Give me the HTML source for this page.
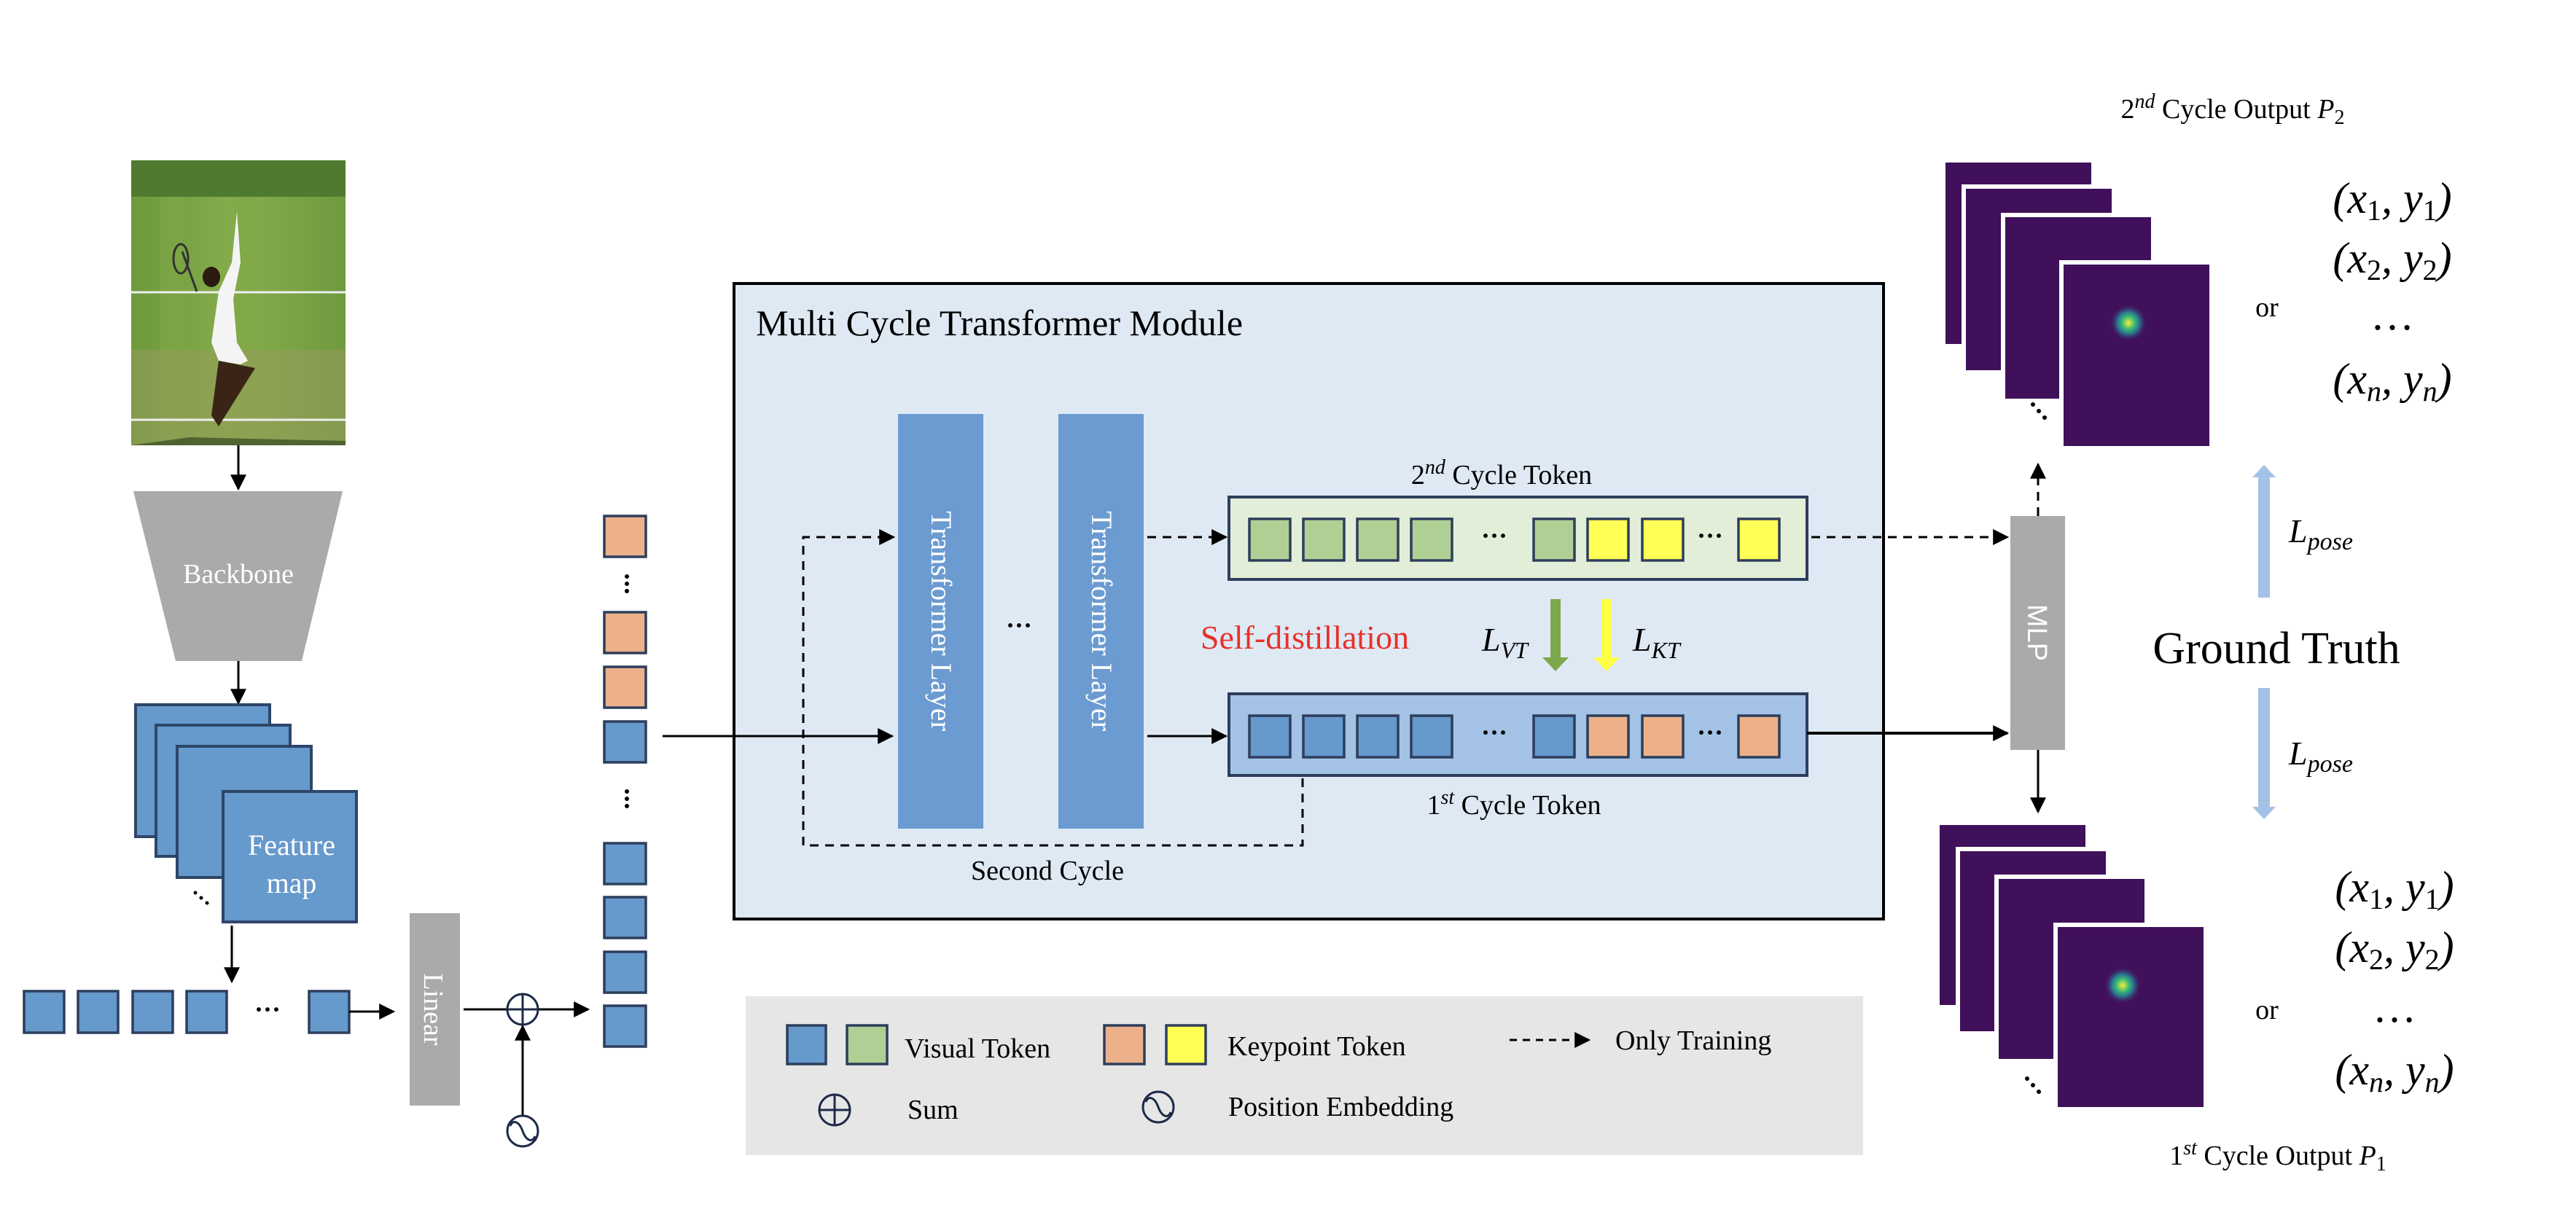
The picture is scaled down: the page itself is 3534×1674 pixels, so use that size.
<!DOCTYPE html>
<html><head><meta charset="utf-8"><style>
html,body{margin:0;padding:0;background:#fff}
svg{display:block}
text{font-family:"Liberation Serif",serif}
</style></head><body>
<svg width="3534" height="1674" viewBox="0 0 3534 1674" xmlns="http://www.w3.org/2000/svg">
<defs>
<marker id="a2" viewBox="0 0 10 10" refX="9" refY="5" markerWidth="22" markerHeight="22" markerUnits="userSpaceOnUse" orient="auto"><path d="M0,0L10,5L0,10z" fill="#000"/></marker>
<radialGradient id="spot"><stop offset="0" stop-color="#f5f03a"/><stop offset="0.35" stop-color="#35b779"/><stop offset="0.6" stop-color="#2c6f8e"/><stop offset="1" stop-color="#41105a" stop-opacity="0"/></radialGradient>
<linearGradient id="grass" x1="0" x2="1"><stop offset="0" stop-color="#6e9a3c"/><stop offset="0.5" stop-color="#86ad4c"/><stop offset="1" stop-color="#6f9a3e"/></linearGradient>
</defs>

<!-- photo -->
<rect x="180" y="220" width="294" height="391" fill="url(#grass)"/>
<rect x="180" y="220" width="294" height="50" fill="#4f7a2f"/>
<rect x="220" y="270" width="30" height="341" fill="#7ea646" opacity="0.6"/>
<rect x="320" y="270" width="30" height="341" fill="#7ea646" opacity="0.6"/>
<rect x="180" y="480" width="294" height="131" fill="#9a9a5e" opacity="0.5"/>
<line x1="180" y1="401" x2="474" y2="401" stroke="#eee" stroke-width="3"/>
<line x1="180" y1="576" x2="474" y2="576" stroke="#eee" stroke-width="3"/>
<path d="M325,290 L318,360 L300,400 L290,470 L300,495 L330,500 L340,495 L325,470 L320,410 L330,360 Z" fill="#f4f4f4"/>
<path d="M300,495 L290,570 L300,585 L350,505 Z" fill="#3a2416"/>
<ellipse cx="290" cy="380" rx="12" ry="14" fill="#2a1a10"/>
<line x1="270" y1="400" x2="250" y2="345" stroke="#333" stroke-width="3"/>
<ellipse cx="248" cy="355" rx="10" ry="20" fill="none" stroke="#333" stroke-width="3"/>
<path d="M180,611 L260,600 L474,605 L474,611Z" fill="#2a3a1a" opacity="0.6"/>

<line x1="327" y1="611" x2="327" y2="671" stroke="#000" stroke-width="3" marker-end="url(#a2)"/>
<polygon points="183,674 470,674 414,907 241,907" fill="#aaaaaa"/>
<text x="327" y="800" font-size="38" fill="#fff" text-anchor="middle">Backbone</text>
<line x1="327" y1="907" x2="327" y2="965" stroke="#000" stroke-width="3" marker-end="url(#a2)"/>

<!-- feature maps -->
<g fill="#6699cc" stroke="#2d4668" stroke-width="4">
<rect x="186" y="967" width="184" height="181"/>
<rect x="214" y="995" width="184" height="180"/>
<rect x="243" y="1024" width="184" height="180"/>
<rect x="306" y="1086" width="183" height="179"/>
</g>
<text x="400" y="1173" font-size="40" fill="#fff" text-anchor="middle">Feature</text>
<text x="400" y="1225" font-size="40" fill="#fff" text-anchor="middle">map</text>
<g fill="#000"><circle cx="268" cy="1225" r="2.5"/><circle cx="276" cy="1232" r="2.5"/><circle cx="284" cy="1239" r="2.5"/></g>
<line x1="318" y1="1270" x2="318" y2="1347" stroke="#000" stroke-width="3" marker-end="url(#a2)"/>

<!-- token row -->
<g fill="#6699cc" stroke="#2d3e5c" stroke-width="3.5">
<rect x="33" y="1360" width="55" height="57"/>
<rect x="107" y="1360" width="55" height="57"/>
<rect x="182" y="1360" width="55" height="57"/>
<rect x="256" y="1360" width="55" height="57"/>
<rect x="424" y="1360" width="55" height="57"/>
</g>
<text x="367" y="1397" font-size="36" text-anchor="middle" font-weight="bold">···</text>
<line x1="479" y1="1388" x2="540" y2="1388" stroke="#000" stroke-width="3" marker-end="url(#a2)"/>
<rect x="562" y="1253" width="69" height="264" fill="#aaaaaa"/>
<text transform="translate(582,1385) rotate(90)" font-size="38" fill="#fff" text-anchor="middle">Linear</text>
<line x1="636" y1="1385" x2="807" y2="1385" stroke="#000" stroke-width="3" marker-end="url(#a2)"/>
<circle cx="717" cy="1385" r="21" fill="#fff" stroke="#1e2a4a" stroke-width="3"/>
<line x1="696" y1="1385" x2="738" y2="1385" stroke="#1e2a4a" stroke-width="3"/>
<line x1="717" y1="1364" x2="717" y2="1406" stroke="#1e2a4a" stroke-width="3"/>
<line x1="717" y1="1530" x2="717" y2="1408" stroke="#000" stroke-width="3" marker-end="url(#a2)"/>
<circle cx="717" cy="1552" r="21" fill="#fff" stroke="#1e2a4a" stroke-width="3"/>
<path d="M700,1545 C703,1536 712,1538 717,1552 C722,1566 731,1568 734,1559" fill="none" stroke="#1e2a4a" stroke-width="3"/>

<!-- token column -->
<g stroke="#2d3e5c" stroke-width="3.5">
<rect x="829" y="708" width="57" height="56" fill="#ecb18a"/>
<rect x="829" y="840" width="57" height="56" fill="#ecb18a"/>
<rect x="829" y="915" width="57" height="56" fill="#ecb18a"/>
<rect x="829" y="990" width="57" height="56" fill="#6699cc"/>
<rect x="829" y="1157" width="57" height="56" fill="#6699cc"/>
<rect x="829" y="1231" width="57" height="56" fill="#6699cc"/>
<rect x="829" y="1306" width="57" height="56" fill="#6699cc"/>
<rect x="829" y="1380" width="57" height="56" fill="#6699cc"/>
</g>
<g fill="#000"><circle cx="860" cy="791" r="3"/><circle cx="860" cy="801" r="3"/><circle cx="860" cy="811" r="3"/>
<circle cx="860" cy="1086" r="3"/><circle cx="860" cy="1096" r="3"/><circle cx="860" cy="1106" r="3"/></g>

<!-- module -->
<rect x="1007" y="389" width="1577" height="872" fill="#dfe9f4" stroke="#000" stroke-width="4"/>
<text x="1037" y="460" font-size="50">Multi Cycle Transformer Module</text>
<line x1="909" y1="1010" x2="1224" y2="1010" stroke="#000" stroke-width="3" marker-end="url(#a2)"/>
<rect x="1232" y="568" width="117" height="569" fill="#6b9bd1"/>
<rect x="1452" y="568" width="117" height="569" fill="#6b9bd1"/>
<text transform="translate(1278,852) rotate(90)" font-size="40" fill="#fff" text-anchor="middle">Transformer Layer</text>
<text transform="translate(1498,852) rotate(90)" font-size="40" fill="#fff" text-anchor="middle">Transformer Layer</text>
<text x="1398" y="870" font-size="36" text-anchor="middle" font-weight="bold">···</text>
<g fill="none" stroke="#000" stroke-width="3" stroke-dasharray="12,9">
<polyline points="1787,1068 1787,1160 1102,1160 1102,737 1226,737" marker-end="url(#a2)"/>
<line x1="1574" y1="737" x2="1682" y2="737" marker-end="url(#a2)"/>
<line x1="2485" y1="737" x2="2754" y2="737" marker-end="url(#a2)"/>
<line x1="2796" y1="708" x2="2796" y2="637" marker-end="url(#a2)"/>
</g>
<text x="1437" y="1207" font-size="38" text-anchor="middle">Second Cycle</text>
<line x1="1574" y1="1010" x2="1682" y2="1010" stroke="#000" stroke-width="3" marker-end="url(#a2)"/>

<rect x="1686" y="682" width="793" height="113" fill="#e3eed9" stroke="#2d3e5c" stroke-width="4"/>
<rect x="1686" y="952" width="793" height="112" fill="#a4c2e5" stroke="#2d3e5c" stroke-width="4"/>
<g stroke="#2d3e5c" stroke-width="3.5">
<rect x="1714" y="712" width="56" height="57" fill="#b0cf94"/>
<rect x="1788" y="712" width="56" height="57" fill="#b0cf94"/>
<rect x="1862" y="712" width="56" height="57" fill="#b0cf94"/>
<rect x="1936" y="712" width="56" height="57" fill="#b0cf94"/>
<rect x="2104" y="712" width="56" height="57" fill="#b0cf94"/>
<rect x="2178" y="712" width="56" height="57" fill="#ffff55"/>
<rect x="2253" y="712" width="56" height="57" fill="#ffff55"/>
<rect x="2385" y="712" width="56" height="57" fill="#ffff55"/>
<rect x="1714" y="982" width="56" height="57" fill="#6699cc"/>
<rect x="1788" y="982" width="56" height="57" fill="#6699cc"/>
<rect x="1862" y="982" width="56" height="57" fill="#6699cc"/>
<rect x="1936" y="982" width="56" height="57" fill="#6699cc"/>
<rect x="2104" y="982" width="56" height="57" fill="#6699cc"/>
<rect x="2178" y="982" width="56" height="57" fill="#ecb18a"/>
<rect x="2253" y="982" width="56" height="57" fill="#ecb18a"/>
<rect x="2385" y="982" width="56" height="57" fill="#ecb18a"/>
</g>
<g font-size="36" text-anchor="middle" font-weight="bold"><text x="2050" y="747">···</text><text x="2346" y="747">···</text><text x="2050" y="1017">···</text><text x="2346" y="1017">···</text></g>
<text x="2060" y="664" font-size="38" text-anchor="middle">2<tspan font-style="italic" font-size="28" dy="-14">nd</tspan><tspan dy="14"> Cycle Token</tspan></text>
<text x="2077" y="1117" font-size="38" text-anchor="middle">1<tspan font-style="italic" font-size="28" dy="-14">st</tspan><tspan dy="14"> Cycle Token</tspan></text>
<text x="1790" y="890" font-size="46" fill="#e8302a" text-anchor="middle">Self-distillation</text>
<text x="2033" y="893" font-size="46" font-style="italic">L<tspan font-size="32" dy="10">VT</tspan></text>
<text x="2240" y="893" font-size="46" font-style="italic">L<tspan font-size="32" dy="10">KT</tspan></text>
<polygon points="2127,822 2141,822 2141,902 2152,902 2134,921 2116,902 2127,902" fill="#7ea84c"/>
<polygon points="2197,822 2211,822 2211,902 2222,902 2204,921 2186,902 2197,902" fill="#ffff44"/>

<!-- MLP -->
<line x1="2479" y1="1006" x2="2754" y2="1006" stroke="#000" stroke-width="4" marker-end="url(#a2)"/>
<rect x="2758" y="708" width="75" height="321" fill="#aaaaaa"/>
<text transform="translate(2782,868) rotate(90)" font-size="38" fill="#fff" text-anchor="middle" style="font-family:'Liberation Sans',sans-serif">MLP</text>
<line x1="2796" y1="1029" x2="2796" y2="1114" stroke="#000" stroke-width="3" marker-end="url(#a2)"/>

<!-- heatmaps top -->
<g fill="#41105a" stroke="#fff" stroke-width="6">
<rect x="2669" y="223" width="200" height="249" stroke="none"/>
<rect x="2694" y="256" width="206" height="255"/>
<rect x="2748" y="295" width="206" height="255"/>
<rect x="2828" y="360" width="206" height="255"/>
</g>
<circle cx="2920" cy="443" r="26" fill="url(#spot)"/>
<g fill="#000"><circle cx="2789" cy="555" r="3"/><circle cx="2797" cy="564" r="3"/><circle cx="2805" cy="573" r="3"/></g>
<!-- heatmaps bottom -->
<g fill="#41105a" stroke="#fff" stroke-width="6">
<rect x="2661" y="1132" width="200" height="247" stroke="none"/>
<rect x="2686" y="1165" width="206" height="253"/>
<rect x="2739" y="1203" width="206" height="253"/>
<rect x="2820" y="1269" width="206" height="253"/>
</g>
<circle cx="2912" cy="1352" r="26" fill="url(#spot)"/>
<g fill="#000"><circle cx="2781" cy="1480" r="3"/><circle cx="2789" cy="1489" r="3"/><circle cx="2797" cy="1498" r="3"/></g>

<text x="3063" y="162" font-size="38" text-anchor="middle">2<tspan font-style="italic" font-size="28" dy="-14">nd</tspan><tspan dy="14"> Cycle Output </tspan><tspan font-style="italic">P</tspan><tspan font-size="28" dy="8">2</tspan></text>
<text x="3125" y="1598" font-size="38" text-anchor="middle">1<tspan font-style="italic" font-size="28" dy="-14">st</tspan><tspan dy="14"> Cycle Output </tspan><tspan font-style="italic">P</tspan><tspan font-size="28" dy="8">1</tspan></text>

<g font-size="60" font-style="italic" text-anchor="middle">
<text x="3282" y="292">(x<tspan font-size="40" dy="10" font-style="normal">1</tspan><tspan dy="-10">, y</tspan><tspan font-size="40" dy="10" font-style="normal">1</tspan><tspan dy="-10">)</tspan></text>
<text x="3282" y="374">(x<tspan font-size="40" dy="10" font-style="normal">2</tspan><tspan dy="-10">, y</tspan><tspan font-size="40" dy="10" font-style="normal">2</tspan><tspan dy="-10">)</tspan></text>
<text x="3282" y="452" font-style="normal">…</text>
<text x="3282" y="540">(x<tspan font-size="40" dy="10">n</tspan><tspan dy="-10">, y</tspan><tspan font-size="40" dy="10">n</tspan><tspan dy="-10">)</tspan></text>
<text x="3285" y="1237">(x<tspan font-size="40" dy="10" font-style="normal">1</tspan><tspan dy="-10">, y</tspan><tspan font-size="40" dy="10" font-style="normal">1</tspan><tspan dy="-10">)</tspan></text>
<text x="3285" y="1320">(x<tspan font-size="40" dy="10" font-style="normal">2</tspan><tspan dy="-10">, y</tspan><tspan font-size="40" dy="10" font-style="normal">2</tspan><tspan dy="-10">)</tspan></text>
<text x="3285" y="1402" font-style="normal">…</text>
<text x="3285" y="1488">(x<tspan font-size="40" dy="10">n</tspan><tspan dy="-10">, y</tspan><tspan font-size="40" dy="10">n</tspan><tspan dy="-10">)</tspan></text>
</g>
<text x="3110" y="434" font-size="38" text-anchor="middle">or</text>
<text x="3110" y="1398" font-size="38" text-anchor="middle">or</text>

<polygon points="3098,820 3114,820 3114,655 3122,655 3106,638 3090,655 3098,655" fill="#a4c2e5"/>
<polygon points="3098,944 3114,944 3114,1107 3122,1107 3106,1124 3090,1107 3098,1107" fill="#a4c2e5"/>
<text x="3140" y="744" font-size="46" font-style="italic">L<tspan font-size="34" dy="10">pose</tspan></text>
<text x="3140" y="1049" font-size="46" font-style="italic">L<tspan font-size="34" dy="10">pose</tspan></text>
<text x="3123" y="910" font-size="62" text-anchor="middle">Ground Truth</text>

<!-- legend -->
<rect x="1023" y="1367" width="1533" height="218" fill="#e6e6e6"/>
<g stroke="#2d3e5c" stroke-width="3.5">
<rect x="1080" y="1407" width="53" height="53" fill="#6699cc"/>
<rect x="1162" y="1407" width="55" height="53" fill="#b0cf94"/>
<rect x="1515" y="1407" width="55" height="53" fill="#ecb18a"/>
<rect x="1600" y="1407" width="54" height="53" fill="#ffff55"/>
</g>
<g font-size="38">
<text x="1241" y="1451">Visual Token</text>
<text x="1684" y="1448">Keypoint Token</text>
<text x="2216" y="1440">Only Training</text>
<text x="1245" y="1535">Sum</text>
<text x="1685" y="1531">Position Embedding</text>
</g>
<line x1="2071" y1="1427" x2="2180" y2="1427" stroke="#000" stroke-width="3" stroke-dasharray="10,8" marker-end="url(#a2)"/>
<circle cx="1145" cy="1523" r="21" fill="none" stroke="#1e2a4a" stroke-width="3"/>
<line x1="1124" y1="1523" x2="1166" y2="1523" stroke="#1e2a4a" stroke-width="3"/>
<line x1="1145" y1="1502" x2="1145" y2="1544" stroke="#1e2a4a" stroke-width="3"/>
<circle cx="1589" cy="1519" r="21" fill="none" stroke="#1e2a4a" stroke-width="3"/>
<path d="M1572,1512 C1575,1503 1584,1505 1589,1519 C1594,1533 1603,1535 1606,1526" fill="none" stroke="#1e2a4a" stroke-width="3"/>
</svg>
</body></html>
